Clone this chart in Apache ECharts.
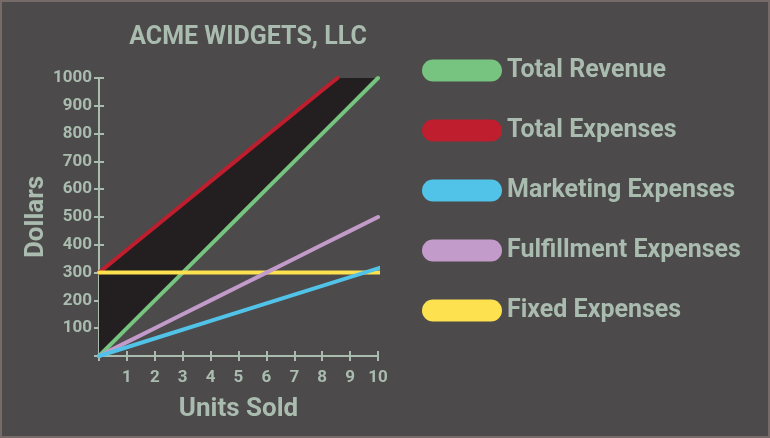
<!DOCTYPE html>
<html><head><meta charset="utf-8">
<script src="https://cdn.jsdelivr.net/npm/echarts@6/dist/echarts.min.js"></script>
<style>
html,body{margin:0;padding:0;background:#4d4a4b;}
#c{width:770px;height:438px;box-sizing:border-box;border:2px solid #766b69;}
</style></head><body>
<div id="c"></div>
<script>
// Data
const units = [0,1,2,3,4,5,6,7,8,9,10];
const totalRevenue = [0,100,200,300,400,500,600,700,800,900,1000];
const totalExpensesX = [0,1,2,3,4,5,6,7,8,8.55];
const totalExpenses = [300,382,464,546,628,710,792,874,956,1000];
const marketingX = [0,5,10.15];
const marketing = [0,158,320];
const fulfillment = [0,50,100,150,200,250,300,350,400,450,500];
const fixedX = [0,10.15];
const fixed = [300,300];
const yTicks = [100,200,300,400,500,600,700,800,900,1000];
const xTicks = [1,2,3,4,5,6,7,8,9,10];

const TXT = '#a9bcaf';
const FONT = 'Roboto';
const pair = (xs, ys) => xs.map((x,i)=>[x, ys[i]]);

// loss polygon: total expenses (capped at 1000) then revenue reversed
const lossPoly = pair(totalExpensesX, totalExpenses)
  .concat([[10,1000]])
  .concat(pair(units, totalRevenue).reverse());

const chart = echarts.init(document.getElementById('c'), null, {renderer:'canvas'});
const pill = 'path://M11,0 H69 A11,11 0 0 1 69,22 H11 A11,11 0 0 1 11,0 Z';
const lineS = (name, data, color) => ({
  name, type:'line', data, symbol:'none', clip:false, xAxisIndex:0, yAxisIndex:0,
  lineStyle:{color, width:4, cap:'round'}, itemStyle:{color}, z:3
});
const axisCommon = {
  type:'value', axisLine:{show:true, lineStyle:{color:TXT, width:2}},
  splitLine:{show:false}
};
chart.setOption({
  backgroundColor:'#4d4a4b',
  animation:false,
  title:{text:'ACME WIDGETS, LLC', left:241, top:18, textAlign:'center',
    textStyle:{color:TXT, fontFamily:FONT, fontWeight:'bold', fontSize:25}},
  grid:{left:97, right:390, top:76, bottom:80},
  legend:{orient:'vertical', left:415, top:51, itemWidth:80, itemHeight:22, itemGap:35,
    icon:pill, selectedMode:false,
    textStyle:{color:TXT, fontFamily:FONT, fontWeight:'bold', fontSize:25},
    data:['Total Revenue','Total Expenses','Marketing Expenses','Fulfillment Expenses','Fixed Expenses']},
  xAxis:[
    Object.assign({}, axisCommon, {min:0, max:10, interval:1,
      name:'Units Sold', nameLocation:'middle', nameGap:40,
      nameTextStyle:{color:TXT, fontFamily:FONT, fontWeight:'bold', fontSize:26},
      axisTick:{show:true, length:5, lineStyle:{color:TXT, width:2}},
      axisLabel:{color:TXT, fontFamily:FONT, fontWeight:'bold', fontSize:17, margin:13,
        formatter:v=> xTicks.includes(v) ? String(v) : ''}}),
    Object.assign({}, axisCommon, {min:0, max:10, interval:1, position:'bottom',
      axisLine:{show:false}, axisLabel:{show:false},
      axisTick:{show:true, inside:true, length:5, lineStyle:{color:TXT, width:2}}})
  ],
  yAxis:[
    Object.assign({}, axisCommon, {min:0, max:1000, interval:100,
      name:'Dollars', nameLocation:'middle', nameGap:50, nameRotate:90,
      nameTextStyle:{color:TXT, fontFamily:FONT, fontWeight:'bold', fontSize:26},
      axisTick:{show:true, length:5, lineStyle:{color:TXT, width:2}},
      axisLabel:{color:TXT, fontFamily:FONT, fontWeight:'bold', fontSize:17, margin:7,
        formatter:v=> yTicks.includes(v) ? String(v) : ''}}),
    Object.assign({}, axisCommon, {min:0, max:1000, interval:100, position:'left',
      axisLine:{show:false}, axisLabel:{show:false},
      axisTick:{show:true, inside:true, length:5, lineStyle:{color:TXT, width:2}}})
  ],
  graphic:[{type:'text', left:152, top:240, style:{text:'LOSS', fill:'#ffffff', fontFamily:FONT, fontSize:15}}],
  series:[
    {type:'custom', z:1, xAxisIndex:0, yAxisIndex:0, data:[0],
     renderItem:(params, api)=>({type:'polygon',
       shape:{points: lossPoly.map(p=>api.coord(p))},
       style:{fill:'#231f20'}})},
    lineS('Total Expenses', pair(totalExpensesX, totalExpenses), '#be1e2d'),
    lineS('Total Revenue', pair(units, totalRevenue), '#76c47f'),
    lineS('Fixed Expenses', pair(fixedX, fixed), '#fde14e'),
    lineS('Fulfillment Expenses', pair(units, fulfillment), '#c39bcb'),
    lineS('Marketing Expenses', pair(marketingX, marketing), '#52c3e8')
  ]
});
</script></body></html>
